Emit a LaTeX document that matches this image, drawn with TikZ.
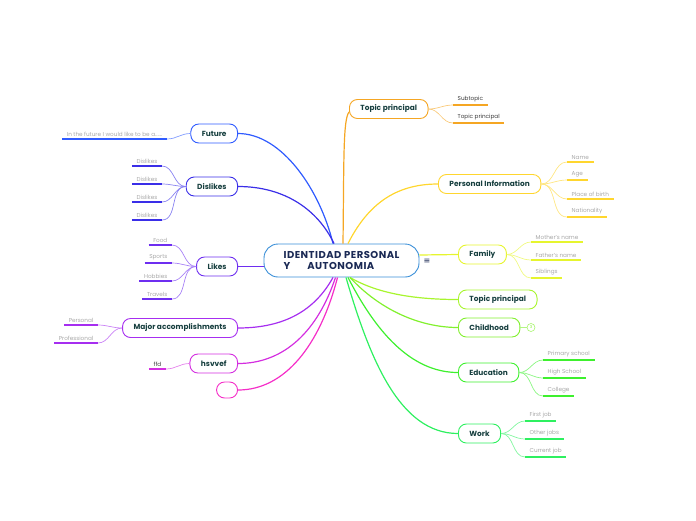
\documentclass[tikz,border=0pt]{standalone}
\usepackage{fontspec}
\setmainfont{Poppins}
\newfontfamily\symbolfont{DejaVu Sans}
\usetikzlibrary{positioning}
\definecolor{RootLine}{HTML}{3A8FD8}
\definecolor{RootText}{HTML}{1B2A55}
\definecolor{TopicText}{HTML}{173F3F}
\definecolor{SubText}{HTML}{A8A8A8}
\definecolor{DarkSub}{HTML}{3A3A3A}
\definecolor{cFuture}{HTML}{2F5BFF}
\definecolor{cDislikes}{HTML}{3A2EE8}
\definecolor{cLikes}{HTML}{6E2EF0}
\definecolor{cMajor}{HTML}{A62EF0}
\definecolor{cHsv}{HTML}{D42EE0}
\definecolor{cEmpty}{HTML}{F52EC8}
\definecolor{cTopicA}{HTML}{F5A623}
\definecolor{cPersonal}{HTML}{FFD62E}
\definecolor{cFamily}{HTML}{E6F52E}
\definecolor{cTopicB}{HTML}{A8F52E}
\definecolor{cChild}{HTML}{82F02E}
\definecolor{cEdu}{HTML}{3EF02E}
\definecolor{cWork}{HTML}{2EF060}

\begin{document}
\begin{tikzpicture}[x=1pt,y=-1pt,
  root/.style={draw=RootLine,line width=0.9pt,rounded corners=14pt,fill=white,minimum width=155pt,minimum height=33pt,align=left,font=\fontsize{10}{10.5}\selectfont\bfseries\addfontfeature{LetterSpace=5},text=RootText},
  topic/.style={draw=#1,line width=0.9pt,rounded corners=8pt,fill=white,minimum height=19pt,inner xsep=11pt,font=\fontsize{7.4}{8}\selectfont\bfseries,text=TopicText},
  subtopic/.style={inner xsep=4.5pt,inner ysep=2.5pt,font=\fontsize{5.7}{6.5}\selectfont,text=SubText},
  branch/.style={draw=#1,line width=1.2pt},
  twig/.style={draw=#1!60,line width=0.7pt},
  uline/.style={draw=#1,line width=1.6pt}
]
\useasboundingbox (0,0) rectangle (696,520);

% central idea
\node[root] (root) at (341.5,260.5) {IDENTIDAD PERSONAL\\Y\hspace{17pt}AUTONOMIA};
\node[font=\symbolfont\fontsize{8}{8}\selectfont,text=RootText] (menu) at (427,261) {≡};

% main topics, left
\node[topic=cFuture,anchor=east] (future) at (238,133.5) {Future};
\node[topic=cDislikes,anchor=east] (dislikes) at (238,186.5) {Dislikes};
\node[topic=cLikes,anchor=east] (likes) at (238,266.5) {Likes};
\node[topic=cMajor,anchor=east] (major) at (238,328) {Major accomplishments};
\node[topic=cHsv,anchor=east] (hsvvef) at (238,363.5) {hsvvef};
\node[topic=cEmpty,anchor=east,minimum width=21pt,minimum height=16pt,inner xsep=0pt] (blank) at (238,390) {};

% main topics, right
\node[topic=cTopicA,anchor=west] (topicA) at (349,109) {Topic principal};
\node[topic=cPersonal,anchor=west] (personal) at (438,184) {Personal Information};
\node[topic=cFamily,anchor=west] (family) at (458,254.5) {Family};
\node[topic=cTopicB,anchor=west] (topicB) at (458,299.5) {Topic principal};
\node[topic=cChild,anchor=west] (childhood) at (458,327.5) {Childhood};
\node[topic=cEdu,anchor=west] (education) at (458,372.5) {Education};
\node[topic=cWork,anchor=west] (work) at (458,433.5) {Work};
\node[circle,draw=cChild!70,line width=0.6pt,inner sep=0pt,minimum size=8pt,font=\fontsize{4}{4}\selectfont,text=cChild] (count) at (531,327.5) {3};

% subtopics, left
\node[subtopic,anchor=south east] (fu1) at (167,139) {In the future I would like to be a......};
\node[subtopic,anchor=south east] (di1) at (162,166) {Dislikes};
\node[subtopic,anchor=south east] (di2) at (162,184) {Dislikes};
\node[subtopic,anchor=south east] (di3) at (162,202) {Dislikes};
\node[subtopic,anchor=south east] (di4) at (162,220) {Dislikes};
\node[subtopic,anchor=south east] (li1) at (172,245) {Food};
\node[subtopic,anchor=south east] (li2) at (172,263) {Sports};
\node[subtopic,anchor=south east] (li3) at (172,281) {Hobbies};
\node[subtopic,anchor=south east] (li4) at (172,299) {Travels};
\node[subtopic,anchor=south east] (ma1) at (98,325) {Personal};
\node[subtopic,anchor=south east] (ma2) at (98,343) {Professional};
\node[subtopic,anchor=south east,text=DarkSub] (hs1) at (166,369) {ffd};

% subtopics, right
\node[subtopic,anchor=south west,text=DarkSub] (ta1) at (453,105) {Subtopic};
\node[subtopic,anchor=south west,text=DarkSub] (ta2) at (453,123) {Topic principal};
\node[subtopic,anchor=south west] (pe1) at (567,162) {Name};
\node[subtopic,anchor=south west] (pe2) at (567,180) {Age};
\node[subtopic,anchor=south west] (pe3) at (567,199) {Place of birth};
\node[subtopic,anchor=south west] (pe4) at (567,217) {Nationality};
\node[subtopic,anchor=south west] (fa1) at (531,242) {Mother's name};
\node[subtopic,anchor=south west] (fa2) at (531,260) {Father's name};
\node[subtopic,anchor=south west] (fa3) at (531,278) {Siblings};
\node[subtopic,anchor=south west] (ed1) at (543,360) {Primary school};
\node[subtopic,anchor=south west] (ed2) at (543,378) {High School};
\node[subtopic,anchor=south west] (ed3) at (543,396) {College};
\node[subtopic,anchor=south west] (wo1) at (525,421) {First job};
\node[subtopic,anchor=south west] (wo2) at (525,439) {Other jobs};
\node[subtopic,anchor=south west] (wo3) at (525,457) {Current job};

% branches from the centre
\draw[branch=cFuture] ([xshift=-8.5pt]root.north) .. controls (320,190) and (282,133.5) .. (future.east);
\draw[branch=cDislikes] ([xshift=-7.5pt]root.north) .. controls (318,210) and (285,186.5) .. (dislikes.east);
\draw[branch=cLikes] (likes.east) -- (likes.east -| root.west);
\draw[branch=cMajor] ([xshift=-8.5pt]root.south) .. controls (315,310) and (285,328) .. (major.east);
\draw[branch=cHsv] ([xshift=-6pt]root.south) .. controls (318,330) and (285,363.5) .. (hsvvef.east);
\draw[branch=cEmpty] ([xshift=-4pt]root.south) .. controls (320,345) and (285,390) .. (blank.east);
\draw[branch=cTopicA] ([xshift=1.5pt]root.north) .. controls (344,160) and (343,120) .. ([yshift=-3pt]topicA.west);
\draw[branch=cPersonal] ([xshift=6.5pt]root.north) .. controls (370,200) and (400,184) .. (personal.west);
\draw[branch=cFamily] ([yshift=5.5pt]root.east) -- (family.west);
\draw[branch=cTopicB] ([xshift=8.5pt]root.south) .. controls (380,295) and (420,299.5) .. (topicB.west);
\draw[branch=cChild] ([xshift=8.5pt]root.south) .. controls (380,310) and (420,327.5) .. (childhood.west);
\draw[branch=cEdu] ([xshift=6.5pt]root.south) .. controls (375,330) and (410,372.5) .. (education.west);
\draw[branch=cWork] ([xshift=4.5pt]root.south) .. controls (370,360) and (400,433.5) .. (work.west);
\draw[twig=cChild] (childhood.east) -- (count.west);

% twigs and underlines
\draw[twig=cFuture] (future.west) to[out=180,in=0] (fu1.south east);
\draw[uline=cFuture] (fu1.south west) -- (fu1.south east);
\foreach \n in {di1,di2,di3,di4} {
  \draw[twig=cDislikes] (dislikes.west) to[out=180,in=0] (\n.south east);
  \draw[uline=cDislikes] (\n.south west) -- (\n.south east);
}
\foreach \n in {li1,li2,li3,li4} {
  \draw[twig=cLikes] (likes.west) to[out=180,in=0] (\n.south east);
  \draw[uline=cLikes] (\n.south west) -- (\n.south east);
}
\foreach \n in {ma1,ma2} {
  \draw[twig=cMajor] (major.west) to[out=180,in=0] (\n.south east);
  \draw[uline=cMajor] (\n.south west) -- (\n.south east);
}
\draw[twig=cHsv] (hsvvef.west) to[out=180,in=0] (hs1.south east);
\draw[uline=cHsv] (hs1.south west) -- (hs1.south east);
\foreach \n in {ta1,ta2} {
  \draw[twig=cTopicA] (topicA.east) to[out=0,in=180] (\n.south west);
  \draw[uline=cTopicA] (\n.south west) -- (\n.south east);
}
\foreach \n in {pe1,pe2,pe3,pe4} {
  \draw[twig=cPersonal] (personal.east) to[out=0,in=180] (\n.south west);
  \draw[uline=cPersonal] (\n.south west) -- (\n.south east);
}
\foreach \n in {fa1,fa2,fa3} {
  \draw[twig=cFamily] (family.east) to[out=0,in=180] (\n.south west);
  \draw[uline=cFamily] (\n.south west) -- (\n.south east);
}
\foreach \n in {ed1,ed2,ed3} {
  \draw[twig=cEdu] (education.east) to[out=0,in=180] (\n.south west);
  \draw[uline=cEdu] (\n.south west) -- (\n.south east);
}
\foreach \n in {wo1,wo2,wo3} {
  \draw[twig=cWork] (work.east) to[out=0,in=180] (\n.south west);
  \draw[uline=cWork] (\n.south west) -- (\n.south east);
}
\end{tikzpicture}
\end{document}
